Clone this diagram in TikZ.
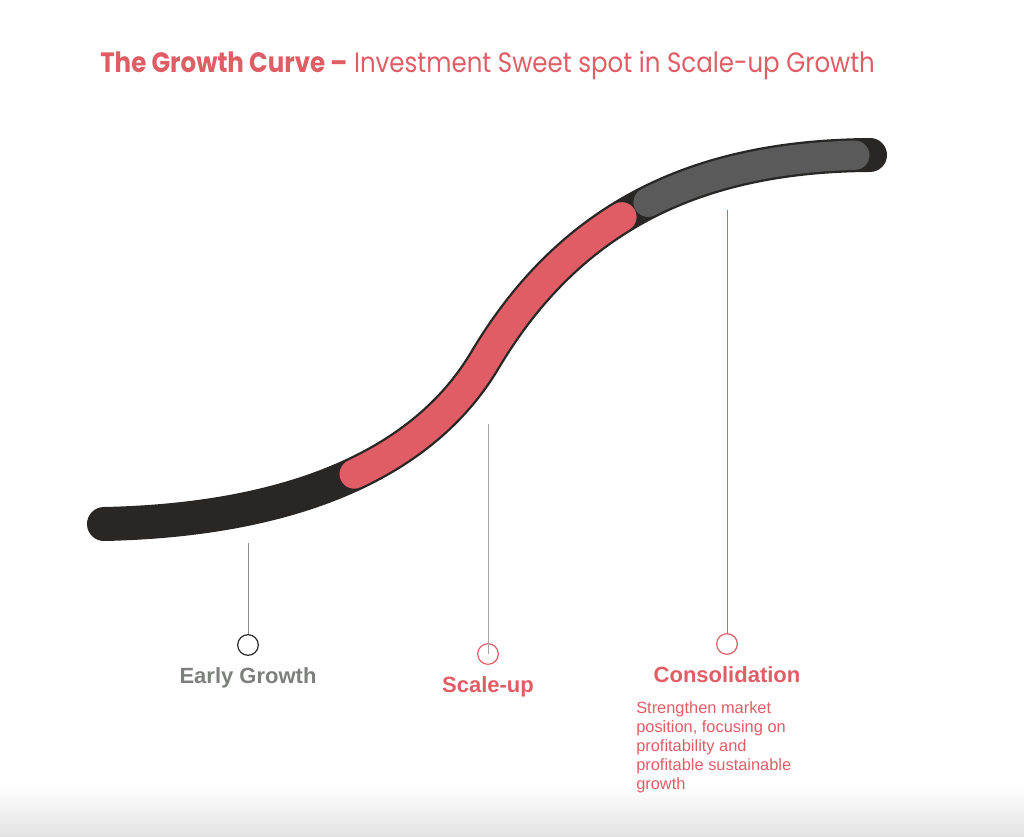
\documentclass[tikz,border=0pt]{standalone}
\usepackage{fontspec}
\setmainfont{Liberation Sans}
\newfontfamily\titlefont[FakeStretch=0.875]{Poppins}
\usetikzlibrary{calc}
\definecolor{cred}{HTML}{E05D65}
\definecolor{cblack}{HTML}{282725}
\definecolor{cgray}{HTML}{5A5A5A}
\definecolor{clabgray}{HTML}{7C7F7C}
\newcommand\bzsplit[6]{%
  \coordinate (#6a) at ($(#1)!#5!(#2)$);
  \coordinate (#6b) at ($(#2)!#5!(#3)$);
  \coordinate (#6c) at ($(#3)!#5!(#4)$);
  \coordinate (#6d) at ($(#6a)!#5!(#6b)$);
  \coordinate (#6e) at ($(#6b)!#5!(#6c)$);
  \coordinate (#6f) at ($(#6d)!#5!(#6e)$);
}
\tikzset{
  blackcurve/.style={draw=cblack,line width=25.5pt,line cap=round},
  redcurve/.style={draw=cred,line width=22pt,line cap=round},
  graycurve/.style={draw=cgray,line width=22pt,line cap=round},
  marker/.style={circle,draw,line width=0.9pt,minimum size=15.5pt,inner sep=0pt,fill=white},
  leader/.style={line width=0.6pt},
  lab/.style={anchor=base,inner sep=0pt,font=\bfseries\fontsize{16.5}{20}\selectfont},
  desc/.style={anchor=north west,inner sep=0pt,align=left,text=cred,font=\fontsize{12.3}{14.25}\selectfont},
}
\begin{document}
\begin{tikzpicture}[x=0.75pt,y=-0.75pt]
\useasboundingbox (0,0) rectangle (1024,837);
\shade[top color=white,bottom color=black!11] (0,785) rectangle (1024,837);
% curve
\coordinate (P0) at (104,524);
\coordinate (P1) at (294,520);
\coordinate (P2) at (424,463);
\coordinate (P3) at (485,360);
\coordinate (P4) at (572,214);
\coordinate (P5) at (700,156);
\coordinate (P6) at (870,155);
\draw[blackcurve] (P0) .. controls (P1) and (P2) .. (P3) .. controls (P4) and (P5) .. (P6);
\bzsplit{P0}{P1}{P2}{P3}{0.53}{ra}
\bzsplit{P3}{P4}{P5}{P6}{0.435}{rb}
\bzsplit{P3}{P4}{P5}{P6}{0.97}{ga}
\bzsplit{P3}{gaa}{gad}{gaf}{0.52}{gb}
\begin{scope}[shift={(0,-2.5)}]
\draw[graycurve] (gbf) .. controls (gbe) and (gbc) .. (gaf);
\end{scope}
\begin{scope}[shift={(-1,-1)}]
\draw[redcurve] (raf) .. controls (rae) and (rac) .. (P3) .. controls (rba) and (rbd) .. (rbf);
\end{scope}
% title
\node[anchor=base west,inner sep=0pt,text=cred,font=\titlefont\fontsize{21}{26}\selectfont] (title) at (100,73)
  {\textbf{The Growth Curve –} Investment Sweet spot in Scale-up Growth};
% markers
\node[marker,draw=cblack] (m1) at (248,645) {};
\node[marker,draw=cred] (m2) at (488,654) {};
\node[marker,draw=cred] (m3) at (727,644) {};
\coordinate (t1) at (248,543);
\coordinate (t2) at (488,424);
\coordinate (t3) at (727,210);
\draw[leader,draw=black!45] (t1) -- (m1.north);
\draw[leader,draw=black!35] (t2) -- (m2.center);
\draw[leader,draw=cred] (t3) -- (m3.north);
% labels
\node[lab,text=clabgray] (l1) at (248,683) {Early Growth};
\node[lab,text=cred] (l2) at (488,692) {Scale-up};
\node[lab,text=cred] (l3) at (727,682) {Consolidation};
\node[desc] (d3) at (636,701) {Strengthen market\\position, focusing on\\profitability and\\profitable sustainable\\growth};
\end{tikzpicture}
\end{document}
